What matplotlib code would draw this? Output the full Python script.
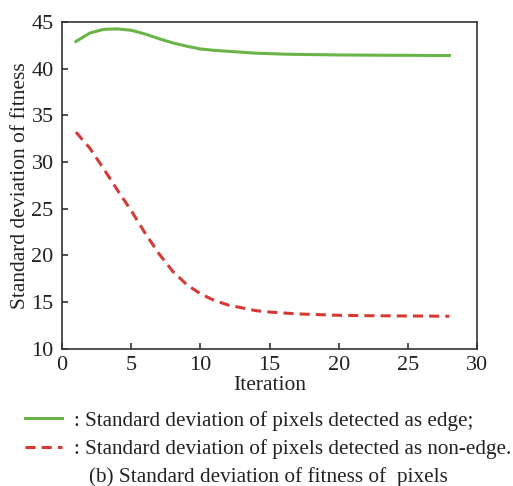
"""Standard deviation of pixel fitness over iterations."""

import matplotlib
matplotlib.use("Agg")
import matplotlib.pyplot as plt

plt.rcParams["font.family"] = ["Liberation Serif", "DejaVu Serif"]

iterations = list(range(1, 29))
edge_std = [42.9, 43.8, 44.2, 44.25, 44.1, 43.7, 43.2, 42.75, 42.4, 42.1,
            41.95, 41.85, 41.75, 41.65, 41.6, 41.55, 41.52, 41.5, 41.48, 41.46,
            41.45, 41.44, 41.43, 41.42, 41.42, 41.41, 41.4, 41.4]
nonedge_std = [33.2, 31.5, 29.3, 27.0, 24.8, 22.4, 20.2, 18.3, 16.9, 15.9,
               15.2, 14.7, 14.4, 14.1, 13.95, 13.85, 13.75, 13.7, 13.65, 13.6,
               13.58, 13.56, 13.55, 13.54, 13.53, 13.52, 13.51, 13.5]
labels = [": Standard deviation of pixels detected as edge;",
          ": Standard deviation of pixels detected as non-edge."]
caption = "(b) Standard deviation of fitness of  pixels"

fig = plt.figure(figsize=(5.13, 4.86), dpi=100)
ax = fig.add_axes([0.121, 0.282, 0.809, 0.673])

ax.plot(iterations, edge_std, color="#6ab548", lw=2.2, label=labels[0],
        solid_joinstyle="round")
ax.plot(iterations, nonedge_std, color="#d43a36", lw=2.2, ls=(0, (3.3, 2)),
        label=labels[1])

ax.set_xlim(0, 30)
ax.set_ylim(10, 45)
ax.set_xticks(range(0, 31, 5))
ax.set_yticks(range(10, 46, 5))
ax.tick_params(direction="in", labelsize=16, length=4, width=1.2,
               colors="#333333", labelcolor="#222222")
ax.tick_params(axis="x", pad=5)
ax.tick_params(axis="y", pad=6)
for side in ax.spines.values():
    side.set_linewidth(1.2)
    side.set_color("#333333")

ax.set_xlabel("Iteration", fontsize=15.5, labelpad=1, color="#222222")
ax.set_ylabel("Standard deviation of fitness", fontsize=15.5, labelpad=1,
              color="#222222")

fig.legend(loc="upper left", bbox_to_anchor=(0.049, 0.155), frameon=False,
           fontsize=15.2, handlelength=1.75, handletextpad=0.55,
           labelspacing=0.42, borderaxespad=0, borderpad=0,
           labelcolor="#222222")
fig.text(0.524, 0.008, caption, ha="center", fontsize=15.3, color="#222222")

fig.savefig("out.png", dpi=100)
